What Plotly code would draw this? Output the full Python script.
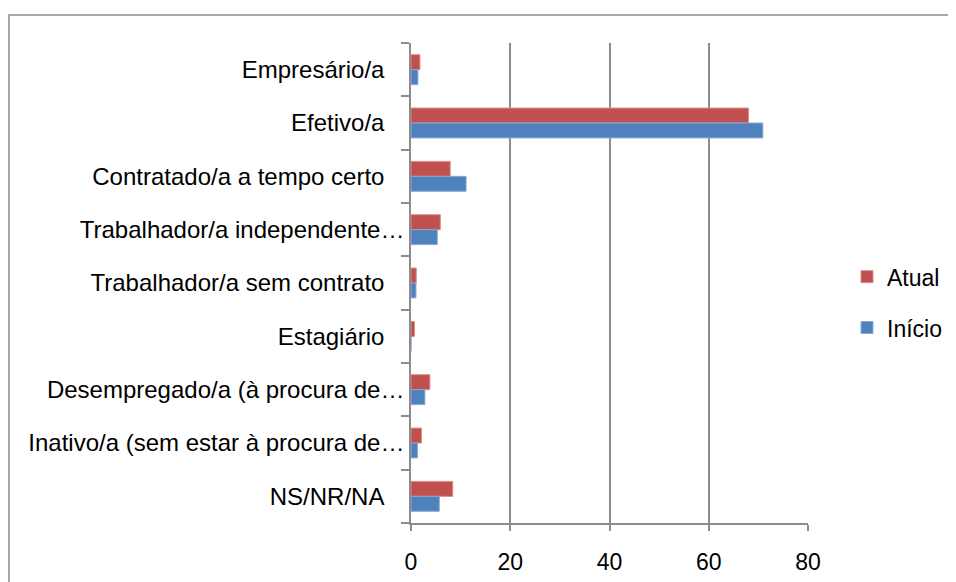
import plotly.graph_objects as go

categories = [
    "Empresário/a",
    "Efetivo/a",
    "Contratado/a a tempo certo",
    "Trabalhador/a independente…",
    "Trabalhador/a sem contrato",
    "Estagiário",
    "Desempregado/a (à procura de…",
    "Inativo/a (sem estar à procura de…",
    "NS/NR/NA",
]
atual = [1.8, 68.0, 7.9, 5.9, 1.05, 0.7, 3.8, 2.1, 8.4]
inicio = [1.4, 70.9, 11.1, 5.3, 1.0, 0.0, 2.8, 1.3, 5.7]
x_ticks = [0, 20, 40, 60, 80]

FONT = "Liberation Sans"
PAD = "\u00a0" * 3

def label(c):
    return c if c.endswith("…") else c + PAD

tick_text = [label(c) for c in categories]

W, H = 948, 574
L, T, PW, PH = 403, 35, 397, 480

fig = go.Figure()
fig.add_trace(go.Bar(
    y=categories, x=atual, name="Atual", orientation="h",
    marker=dict(color="#C0504D", line=dict(color="#D88A88", width=1)),
    legendgroup="a",
))
fig.add_trace(go.Bar(
    y=categories, x=inicio, name="Início", orientation="h",
    marker=dict(color="#4F81BD", line=dict(color="#8AAAD6", width=1)),
    legendgroup="b",
))

fig.update_layout(
    width=W, height=H,
    margin=dict(l=L, r=W - L - PW, t=T, b=H - T - PH, autoexpand=False),
    paper_bgcolor="white", plot_bgcolor="white",
    barmode="group", bargap=0.44, bargroupgap=0,
    font=dict(family=FONT, size=24, color="#000000"),
    showlegend=True,
    legend=dict(x=(847 - 8 - L) / PW, y=0.46, xanchor="left", yanchor="middle",
                font=dict(size=23), tracegroupgap=18,
                bgcolor="rgba(0,0,0,0)"),
    xaxis=dict(
        range=[0, 80], tickvals=x_ticks, ticktext=[str(v) for v in x_ticks],
        showgrid=True, gridcolor="#8C8C8C", gridwidth=1.5,
        showline=True, linecolor="#8C8C8C", linewidth=1.5,
        ticks="outside", ticklen=6, tickcolor="#8C8C8C", tickwidth=1.5,
        zeroline=False, fixedrange=True, automargin=False,
        tickfont=dict(size=23), ticklabelstandoff=12,
    ),
    yaxis=dict(
        categoryorder="array", categoryarray=categories,
        tickvals=categories, ticktext=tick_text,
        autorange="reversed", automargin=False,
        showline=True, linecolor="#8C8C8C", linewidth=1.5,
        ticks="outside", ticklen=8, tickcolor="#8C8C8C", tickwidth=1.5,
        tickson="boundaries", showgrid=False, zeroline=False,
        tickfont=dict(size=24),
    ),
    shapes=[dict(
        type="rect", xref="paper", yref="paper",
        x0=(1 - L) / PW, x1=(W + 5 - L) / PW,
        y0=-0.3, y1=1 + (T - 7) / PH,
        line=dict(color="#8C8C8C", width=1.5), fillcolor="rgba(0,0,0,0)",
        layer="below",
    )],
)

fig.write_html("out.html")
